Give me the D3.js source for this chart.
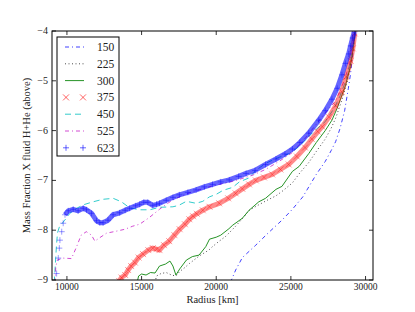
<!DOCTYPE html>
<html>
<head>
<meta charset="utf-8">
<script src="https://cdn.jsdelivr.net/npm/d3@7"></script>
<style>
  body { margin: 0; background: #fff; }
</style>
</head>
<body>
<svg id="chart" width="415" height="312"></svg>
<script>
// values: [radius km, log10 mass fraction]
const s150 = [[20950,-9.05],[21300,-8.8],[21750,-8.55],[22650,-8.3],[23500,-8.05],[24400,-7.8],[25100,-7.58],[25800,-7.33],[26200,-7.13],[26700,-6.88],[27300,-6.62],[27700,-6.4],[28000,-6.22],[28300,-5.95],[28600,-5.6],[28850,-5.15],[29000,-4.85],[29150,-4.45],[29300,-4.0]];
const s225 = [[15900,-9.05],[16000,-8.92],[16300,-8.87],[16650,-8.85],[17000,-8.9],[17300,-8.92],[17550,-8.83],[17900,-8.75],[18200,-8.67],[18850,-8.52],[19500,-8.4],[19750,-8.33],[20200,-8.22],[20650,-8.12],[21300,-7.92],[21800,-7.75],[22200,-7.6],[22850,-7.49],[23400,-7.4],[24000,-7.31],[24500,-7.2],[25100,-7.05],[25600,-6.85],[26200,-6.64],[26700,-6.42],[27300,-6.17],[27700,-5.95],[28000,-5.75],[28400,-5.4],[28750,-5.05],[29000,-4.7],[29150,-4.4],[29300,-4.0]];
const s300 = [[14700,-9.05],[14800,-8.92],[15000,-8.88],[15300,-8.9],[15600,-8.85],[15900,-8.86],[16200,-8.72],[16600,-8.68],[16900,-8.62],[17100,-8.72],[17300,-8.9],[17550,-8.78],[18000,-8.6],[18400,-8.53],[18850,-8.5],[19300,-8.33],[19550,-8.18],[20000,-8.14],[20300,-8.1],[20850,-7.97],[21100,-7.9],[21750,-7.76],[22200,-7.6],[22850,-7.43],[23300,-7.36],[24000,-7.18],[24400,-7.12],[25100,-6.82],[25550,-6.72],[26200,-6.46],[26700,-6.24],[27300,-6.0],[27750,-5.79],[28100,-5.55],[28650,-5.1],[28950,-4.75],[29150,-4.4],[29320,-4.0]];
const s375 = [[13500,-9.02],[13650,-8.95],[13900,-8.9],[14100,-8.8],[14300,-8.72],[14550,-8.65],[14800,-8.55],[15100,-8.48],[15450,-8.4],[15750,-8.36],[16000,-8.38],[16200,-8.4],[16500,-8.3],[16850,-8.22],[17200,-8.1],[17550,-7.98],[17900,-7.88],[18200,-7.78],[18450,-7.72],[18700,-7.67],[19100,-7.6],[19550,-7.53],[20200,-7.46],[20800,-7.36],[21300,-7.26],[21750,-7.17],[22200,-7.08],[22650,-7.0],[23200,-6.94],[23750,-6.88],[24300,-6.78],[24850,-6.68],[25400,-6.52],[25950,-6.34],[26400,-6.17],[26800,-6.02],[27100,-5.92],[27550,-5.73],[28000,-5.5],[28400,-5.22],[28700,-4.92],[29000,-4.6],[29150,-4.35],[29280,-4.05]];
const s450 = [[9150,-9.05],[9200,-8.8],[9250,-8.55],[9300,-8.3],[9370,-8.05],[9500,-7.93],[9850,-7.8],[10200,-7.66],[10650,-7.56],[11100,-7.49],[11750,-7.43],[12400,-7.38],[13100,-7.36],[13650,-7.43],[14200,-7.55],[14850,-7.59],[15550,-7.59],[16200,-7.54],[17100,-7.53],[17500,-7.5],[18000,-7.42],[18650,-7.46],[19100,-7.42],[19550,-7.33],[20000,-7.28],[20450,-7.2],[21100,-7.14],[21550,-7.03],[22200,-6.95],[22650,-6.8],[23300,-6.66],[24000,-6.56],[24900,-6.46],[25500,-6.33],[26000,-6.18],[26600,-6.0],[27300,-5.82],[27900,-5.55],[28300,-5.3],[28700,-4.98],[28950,-4.65],[29150,-4.35],[29300,-4.0]];
const s525 = [[9200,-9.05],[9250,-8.75],[9350,-8.6],[9750,-8.56],[10300,-8.57],[10650,-8.33],[10950,-8.1],[11300,-8.03],[11650,-8.1],[11870,-8.22],[12200,-8.15],[12650,-8.06],[13300,-8.02],[13900,-7.98],[14400,-7.92],[14870,-7.88],[15500,-7.75],[16200,-7.58],[16800,-7.45],[17100,-7.39],[18000,-7.27],[18850,-7.19],[19750,-7.11],[21100,-7.02],[22400,-6.9],[23300,-6.78],[24200,-6.62],[25100,-6.44],[26000,-6.14],[27100,-5.72],[28000,-5.4],[28500,-5.05],[28900,-4.7],[29150,-4.35],[29300,-4.0]];
const s623 = [[9200,-9.05],[9310,-8.87],[9420,-8.56],[9490,-8.36],[9530,-8.2],[9650,-8.03],[9750,-7.86],[9870,-7.69],[10090,-7.61],[10420,-7.58],[10750,-7.61],[11090,-7.56],[11310,-7.59],[11650,-7.66],[11980,-7.81],[12200,-7.85],[12420,-7.85],[12750,-7.8],[13090,-7.69],[13530,-7.65],[13900,-7.6],[14200,-7.56],[14600,-7.51],[14870,-7.48],[15150,-7.44],[15420,-7.44],[15750,-7.5],[16000,-7.48],[16200,-7.46],[16650,-7.4],[17100,-7.34],[17530,-7.29],[18100,-7.24],[18650,-7.19],[19200,-7.13],[19750,-7.08],[20300,-7.03],[20870,-6.99],[21500,-6.92],[22000,-6.86],[22600,-6.8],[23300,-6.68],[24000,-6.57],[24600,-6.47],[25100,-6.37],[25600,-6.24],[26200,-6.05],[26870,-5.79],[27300,-5.6],[27750,-5.37],[28100,-5.15],[28420,-4.88],[28650,-4.65],[28870,-4.46],[29000,-4.3],[29130,-4.14],[29250,-4.02]];

const labels = ["150", "225", "300", "375", "450", "525", "623"];
const xTicks = [10000, 15000, 20000, 25000, 30000];
const yTicks = [-9, -8, -7, -6, -5, -4];

const series = [
  { name: "150", data: s150, color: "#0000ff", dash: "4,3,1,3", kind: "line", opacity: 0.75 },
  { name: "225", data: s225, color: "#000000", dash: "1,2.5", kind: "line", opacity: 0.7 },
  { name: "300", data: s300, color: "#008000", dash: null, kind: "line", opacity: 0.85 },
  { name: "375", data: s375, color: "#ff0000", kind: "x" },
  { name: "450", data: s450, color: "#00bfbf", dash: "6,4", kind: "line", opacity: 0.8 },
  { name: "525", data: s525, color: "#bf00bf", dash: "4,3,1,3", kind: "line", opacity: 0.7 },
  { name: "623", data: s623, color: "#0000ff", kind: "plus" },
];

const svg = d3.select("#chart");
const margin = { top: 31, right: 42, bottom: 32, left: 52 };
const W = 415, H = 312;
const serif = "Liberation Serif";

const x = d3.scaleLinear().domain([9000, 30500]).range([margin.left, W - margin.right]);
const y = d3.scaleLinear().domain([-9, -4]).range([H - margin.bottom, margin.top]);

svg.append("defs").append("clipPath").attr("id", "plotclip")
  .append("rect")
  .attr("x", x(9000)).attr("y", y(-4))
  .attr("width", x(30500) - x(9000)).attr("height", y(-9) - y(-4));

const plot = svg.append("g").attr("clip-path", "url(#plotclip)");

const line = d3.line().x(d => x(d[0])).y(d => y(d[1]));

const drawMarker = (g, kind, cx, cy, color, size, op) => {
  const d = kind === "x"
    ? `M${cx - size},${cy - size}L${cx + size},${cy + size}M${cx - size},${cy + size}L${cx + size},${cy - size}`
    : `M${cx - size},${cy}L${cx + size},${cy}M${cx},${cy - size}L${cx},${cy + size}`;
  g.append("path").attr("d", d)
    .attr("stroke", color).attr("stroke-width", 1).attr("opacity", op).attr("fill", "none");
};

for (const s of series) {
  if (s.kind === "line") {
    plot.append("path")
      .datum(s.data)
      .attr("fill", "none")
      .attr("stroke", s.color)
      .attr("stroke-width", 1)
      .attr("stroke-opacity", s.opacity)
      .attr("stroke-dasharray", s.dash)
      .attr("d", line);
  }
}

// marker series: dense points in the original form a thick band
for (const s of series.filter(d => d.kind !== "line")) {
  const band = s.kind === "plus" ? s.data.filter(d => d[0] >= 9870) : s.data;
  plot.append("path")
    .datum(band)
    .attr("fill", "none")
    .attr("stroke", s.color)
    .attr("stroke-width", 5)
    .attr("stroke-opacity", s.kind === "plus" ? 0.6 : 0.45)
    .attr("stroke-linejoin", "round")
    .attr("d", line(band));
  const g = plot.append("g");
  s.data.forEach(d => drawMarker(g, s.kind, x(d[0]), y(d[1]), s.color, 3, 0.4));
}

// frame
svg.append("rect")
  .attr("x", x(9000)).attr("y", y(-4))
  .attr("width", x(30500) - x(9000)).attr("height", y(-9) - y(-4))
  .attr("fill", "none").attr("stroke", "#000").attr("stroke-width", 1);

// ticks pointing inward on all sides
const tl = 4;
const tg = svg.append("g").attr("stroke", "#000").attr("stroke-width", 0.8);
xTicks.forEach(t => {
  tg.append("line").attr("x1", x(t)).attr("x2", x(t)).attr("y1", y(-9)).attr("y2", y(-9) - tl);
  tg.append("line").attr("x1", x(t)).attr("x2", x(t)).attr("y1", y(-4)).attr("y2", y(-4) + tl);
});
yTicks.forEach(t => {
  tg.append("line").attr("x1", x(9000)).attr("x2", x(9000) + tl).attr("y1", y(t)).attr("y2", y(t));
  tg.append("line").attr("x1", x(30500)).attr("x2", x(30500) - tl).attr("y1", y(t)).attr("y2", y(t));
});

svg.append("g").selectAll("text").data(xTicks).join("text")
  .attr("x", d => x(d)).attr("y", y(-9) + 10)
  .attr("text-anchor", "middle").attr("font-size", 9.5).attr("font-family", serif).attr("fill", "#222")
  .text(d => d);

svg.append("g").selectAll("text").data(yTicks).join("text")
  .attr("x", x(9000) - 4).attr("y", d => y(d) + 3)
  .attr("text-anchor", "end").attr("font-size", 10).attr("font-family", serif).attr("fill", "#222")
  .text(d => "\u2212" + Math.abs(d));

svg.append("text")
  .attr("x", (x(9000) + x(30500)) / 2).attr("y", 303)
  .attr("text-anchor", "middle").attr("font-size", 10.5).attr("font-family", serif).attr("fill", "#222")
  .text("Radius [km]");

svg.append("text")
  .attr("transform", `translate(30,${(y(-4) + y(-9)) / 2}) rotate(-90)`)
  .attr("text-anchor", "middle").attr("font-size", 10.5).attr("font-family", serif).attr("fill", "#222")
  .text("Mass Fraction X fluid H+He (above)");

// legend
const lg = svg.append("g");
lg.append("rect").attr("x", 57).attr("y", 37).attr("width", 62).attr("height", 119)
  .attr("fill", "#fff").attr("stroke", "#000").attr("stroke-width", 1);
series.forEach((s, i) => {
  const ly = 47 + i * 16.8;
  if (s.kind === "line") {
    lg.append("line").attr("x1", 65).attr("x2", 84).attr("y1", ly).attr("y2", ly)
      .attr("stroke", s.color).attr("stroke-opacity", s.opacity).attr("stroke-width", 1)
      .attr("stroke-dasharray", s.dash);
  } else {
    drawMarker(lg, s.kind, 66, ly, s.color, 3, 0.6);
    drawMarker(lg, s.kind, 83, ly, s.color, 3, 0.6);
  }
  lg.append("text").attr("x", 97).attr("y", ly + 4)
    .attr("font-size", 11.5).attr("font-family", serif).attr("fill", "#222").text(labels[i]);
});
</script>
</body>
</html>
